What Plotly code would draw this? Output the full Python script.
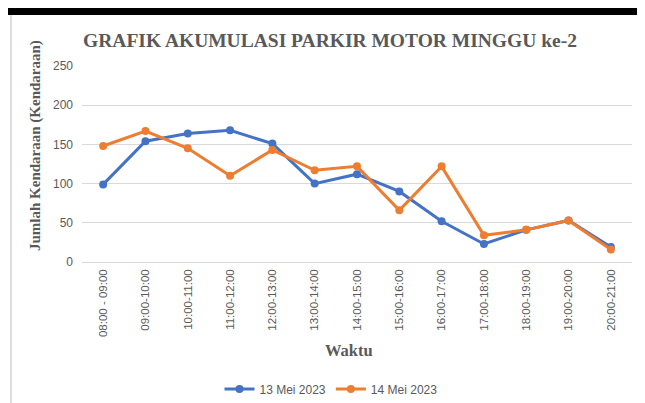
import plotly.graph_objects as go

categories = ["08:00 - 09:00", "09:00-10:00", "10:00-11:00", "11:00-12:00", "12:00-13:00",
              "13:00-14:00", "14:00-15:00", "15:00-16:00", "16:00-17:00", "17:00-18:00",
              "18:00-19:00", "19:00-20:00", "20:00-21:00"]
mei13 = [99, 154, 164, 168, 151, 100, 112, 90, 52, 23, 41, 53, 19]
mei14 = [148, 167, 145, 110, 143, 117, 122, 66, 122, 34, 41, 53, 16]
y_ticks = [0, 50, 100, 150, 200, 250]

# page body has an 8px margin; figure is sized to fill the rest of the window
W, H = 637, 395
L, R, T, B = 74, 13, 58, 141
PW, PH = W - L - R, H - T - B

def px(x):  # figure pixel -> paper x
    return (x - L) / PW

def py(y):  # figure pixel -> paper y
    return (H - B - y) / PH

fig = go.Figure()
fig.add_trace(go.Scatter(x=categories, y=mei13, name="13 Mei 2023", mode="lines+markers",
                         line=dict(color="#4472C4", width=3), marker=dict(size=8, color="#4472C4")))
fig.add_trace(go.Scatter(x=categories, y=mei14, name="14 Mei 2023", mode="lines+markers",
                         line=dict(color="#ED7D31", width=3), marker=dict(size=8, color="#ED7D31")))

fig.update_layout(
    width=W, height=H,
    margin=dict(l=L, r=R, t=T, b=B, autoexpand=False),
    paper_bgcolor="white", plot_bgcolor="white",
    title=dict(text="<b>GRAFIK AKUMULASI PARKIR MOTOR MINGGU ke-2</b>",
               font=dict(family="Liberation Serif", size=19.5, color="#595959"),
               x=322 / W, xanchor="center", y=1 - 32 / H, yanchor="middle"),
    xaxis=dict(type="category", range=[-0.5, 12.5], tickangle=-90,
               tickfont=dict(family="Liberation Sans", size=11.5, color="#595959"),
               showgrid=False, showline=False, ticks="", ticklabelstandoff=4),
    yaxis=dict(range=[0, 250], tickvals=y_ticks, showgrid=True, gridcolor="#D9D9D9", gridwidth=1,
               zeroline=True, zerolinecolor="#D9D9D9", zerolinewidth=1,
               tickfont=dict(family="Liberation Sans", size=12, color="#595959"), ticks="",
               ticklabelstandoff=8),
    legend=dict(orientation="h", x=px(323), xanchor="center", y=py(381), yanchor="middle",
                font=dict(family="Liberation Sans", size=12, color="#595959"), itemwidth=30),
    annotations=[
        dict(text="<b>Jumlah Kendaraan (Kendaraan)</b>", xref="paper", yref="paper",
             x=px(27), y=py(138), xanchor="center", yanchor="middle", textangle=-90,
             showarrow=False, font=dict(family="Liberation Serif", size=15, color="#595959")),
        dict(text="<b>Waktu</b>", xref="paper", yref="paper",
             x=px(341), y=py(342), xanchor="center", yanchor="middle",
             showarrow=False, font=dict(family="Liberation Serif", size=16.5, color="#595959")),
    ],
    shapes=[
        dict(type="rect", xref="paper", yref="paper", x0=px(-1), x1=px(W),
             y0=py(7), y1=py(-1), fillcolor="black", line=dict(width=0), layer="above"),
        dict(type="line", xref="paper", yref="paper", x0=px(3), x1=px(3),
             y0=py(7), y1=py(H), line=dict(color="#DDDDDD", width=2)),
    ],
    showlegend=True,
)

fig.write_html("out.html")
